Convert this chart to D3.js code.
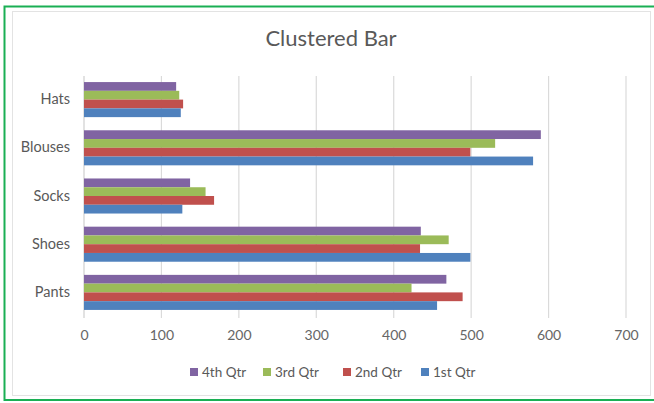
<!DOCTYPE html>
<html><head><meta charset="utf-8">
<script src="https://cdn.jsdelivr.net/npm/d3@7/dist/d3.min.js"></script>
<style>body{margin:0;background:#fff;}svg{display:block;font-family:Lato,"Open Sans",sans-serif;}</style>
</head><body>
<script>
const categories = ["Hats","Blouses","Socks","Shoes","Pants"];
const seriesNames = ["4th Qtr","3rd Qtr","2nd Qtr","1st Qtr"];
const q4 = [119, 590, 137, 435, 468];
const q3 = [123, 531, 157, 471, 423];
const q2 = [128, 499, 168, 434, 489];
const q1 = [125, 580, 127, 499, 456];
const seriesValues = [q4, q3, q2, q1];
const colors = ["#8064A2","#9BBB59","#C0504D","#4F81BD"];
const xTicks = [0,100,200,300,400,500,600,700];

const W = 654, H = 403;
const svg = d3.select("body").append("svg").attr("width", W).attr("height", H);

// frames
svg.append("rect").attr("x",12.5).attr("y",11.5).attr("width",638).attr("height",384)
  .attr("fill","#fff").attr("stroke","#e3e3e3").attr("stroke-width",1);
svg.append("rect").attr("x",4.5).attr("y",6.5).attr("width",670).attr("height",393.5)
  .attr("fill","none").attr("stroke","#1aaf54").attr("stroke-width",2);

const x = d3.scaleLinear().domain([0,700]).range([84,626]);
const y = d3.scaleBand().domain(categories).range([75.5,316.5]).padding(0);
// Excel gap width 150%: bars occupy 4/5.5 of each band
const inner = d3.scaleBand().domain(seriesNames)
  .range([y.bandwidth()*0.75/5.5, y.bandwidth()*(4.75/5.5)]).padding(0);

// gridlines
svg.append("g").selectAll("line").data(xTicks).join("line")
  .attr("x1",d=>x(d)).attr("x2",d=>x(d)).attr("y1",76).attr("y2",318)
  .attr("stroke",d=>d===0?"#cfcfcf":"#dadada").attr("stroke-width",1.2);

// bars
const groups = svg.append("g").selectAll("g").data(categories).join("g")
  .attr("transform",c=>`translate(0,${y(c)})`);
groups.selectAll("rect").data((c,ci)=>seriesNames.map((s,si)=>({s,si,v:seriesValues[si][ci]})))
  .join("rect")
  .attr("x",x(0)).attr("y",d=>inner(d.s)).attr("height",inner.bandwidth())
  .attr("width",d=>x(d.v)-x(0)).attr("fill",d=>colors[d.si]);

// axes labels
const xAxis = d3.axisBottom(x).tickValues(xTicks).tickSize(0).tickPadding(0);
const gx = svg.append("g").attr("transform","translate(0,330)").call(xAxis);
gx.select(".domain").remove();
gx.selectAll("text").attr("font-size","14px").attr("fill","#666").attr("font-family","Lato").attr("dy","0.71em");

const yAxis = d3.axisLeft(y).tickSize(0).tickPadding(14);
const gy = svg.append("g").attr("transform","translate(84,0)").call(yAxis);
gy.select(".domain").remove();
gy.selectAll("text").attr("font-size","14.5px").attr("fill","#595959").attr("font-family","Lato");

// title
svg.append("text").attr("x",331).attr("y",46).attr("text-anchor","middle")
  .attr("font-size","22px").attr("fill","#595959").text("Clustered Bar");

// legend
const legX = [190, 263, 343, 421];
const leg = svg.append("g").selectAll("g").data(seriesNames).join("g")
  .attr("transform",(d,i)=>`translate(${legX[i]},372)`);
leg.append("rect").attr("x",0).attr("y",-4).attr("width",8).attr("height",8).attr("fill",(d,i)=>colors[i]);
leg.append("text").attr("x",12).attr("y",0).attr("dy","0.35em").attr("font-size","13.5px")
  .attr("fill","#595959").text(d=>d);
</script>
</body></html>
